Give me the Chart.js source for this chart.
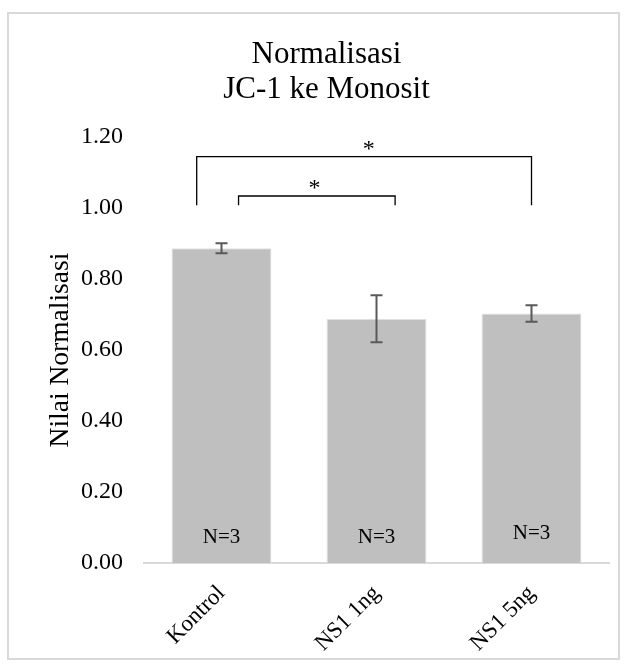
<!DOCTYPE html>
<html>
<head>
<meta charset="utf-8">
<script src="https://cdn.jsdelivr.net/npm/chart.js@4.4.1/dist/chart.umd.min.js"></script>
<style>
  body { margin: 0; background: #fff; }
  #frame { position: absolute; left: 7px; top: 12px; width: 609px; height: 644px; border: 2px solid #d9d9d9; }
  #wrap { position: absolute; left: 0; top: 0; width: 625px; height: 666px; }
</style>
</head>
<body>
<div id="frame"></div>
<div id="wrap"><canvas id="chart_canvas" width="625" height="666"></canvas></div>
<script>
// chart data
var categories = ["Kontrol", "NS1 1ng", "NS1 5ng"];
var means = [0.887, 0.688, 0.703];
var errors = [0.014, 0.066, 0.023];
var nLabels = ["N=3", "N=3", "N=3"];
var yTicks = [0, 0.2, 0.4, 0.6, 0.8, 1.0, 1.2];

// significance brackets, in category index / value units
var sigFrom = [-0.16, 0.11];
var sigTo = [2.0, 1.12];
var sigLine = [1.145, 1.034];
var sigLeg = [1.008, 1.008];
var sigStarX = [0.95, 0.6];
var sigStarY = [1.178, 1.068];

var FONT = "'Liberation Serif', 'Times New Roman', serif";

var errorBarPlugin = {
  id: "errorBars",
  afterDatasetsDraw: function(chart) {
    var ctx = chart.ctx;
    var yScale = chart.scales.y;
    var meta = chart.getDatasetMeta(0);
    ctx.save();
    ctx.strokeStyle = "#595959";
    ctx.lineWidth = 2;
    meta.data.forEach(function(bar, i) {
      var top = yScale.getPixelForValue(means[i] + errors[i]);
      var bottom = yScale.getPixelForValue(means[i] - errors[i]);
      ctx.beginPath();
      ctx.moveTo(bar.x, top); ctx.lineTo(bar.x, bottom);
      ctx.moveTo(bar.x - 6, top); ctx.lineTo(bar.x + 6, top);
      ctx.moveTo(bar.x - 6, bottom); ctx.lineTo(bar.x + 6, bottom);
      ctx.stroke();
    });
    // sample size labels inside the bars
    ctx.fillStyle = "#000";
    ctx.font = "21px " + FONT;
    ctx.textAlign = "center";
    ctx.textBaseline = "middle";
    var base = yScale.getPixelForValue(0);
    meta.data.forEach(function(bar, i) {
      ctx.fillText(nLabels[i], bar.x, base - (i === 2 ? 30 : 26));
    });
    ctx.restore();
  }
};

var bracketPlugin = {
  id: "brackets",
  afterDraw: function(chart) {
    var ctx = chart.ctx;
    var x = chart.scales.x, y = chart.scales.y;
    var step = x.getPixelForValue(1) - x.getPixelForValue(0);
    function px(v) { return x.getPixelForValue(0) + v * step; }
    ctx.save();
    ctx.strokeStyle = "#000";
    ctx.lineWidth = 1.3;
    ctx.fillStyle = "#000";
    ctx.font = "24px " + FONT;
    ctx.textAlign = "center";
    ctx.textBaseline = "middle";
    for (var i = 0; i < sigFrom.length; i++) {
      var x1 = px(sigFrom[i]), x2 = px(sigTo[i]);
      var yl = y.getPixelForValue(sigLine[i]), yb = y.getPixelForValue(sigLeg[i]);
      ctx.beginPath();
      ctx.moveTo(x1, yb); ctx.lineTo(x1, yl); ctx.lineTo(x2, yl); ctx.lineTo(x2, yb);
      ctx.stroke();
      ctx.fillText("*", px(sigStarX[i]), y.getPixelForValue(sigStarY[i]) + 5);
    }
    ctx.restore();
  }
};

var myChart = new Chart(document.getElementById("chart_canvas").getContext("2d"), {
  type: "bar",
  data: {
    labels: categories,
    datasets: [{
      data: means,
      backgroundColor: "#bfbfbf",
      borderColor: "#e3e3e3",
      borderWidth: { left: 1, right: 1, top: 1, bottom: 0 },
      categoryPercentage: 1.0,
      barPercentage: 0.645
    }]
  },
  options: {
    responsive: false,
    animation: false,
    layout: { padding: { left: 44, right: 16, top: 0, bottom: 0 } },
    plugins: {
      legend: { display: false },
      tooltip: { enabled: false },
      title: {
        display: true,
        text: ["Normalisasi", "JC-1 ke Monosit"],
        color: "#000",
        font: { family: FONT, size: 31, weight: "normal", lineHeight: 1.13 },
        padding: { top: 37, bottom: 30 }
      }
    },
    scales: {
      x: {
        grid: { display: false, drawTicks: false },
        border: { display: true, color: "#d9d9d9", width: 2 },
        ticks: {
          color: "#000",
          font: { family: FONT, size: 23 },
          minRotation: 45,
          maxRotation: 45,
          padding: 17
        },
        afterFit: function(scale) { scale.height = 103; }
      },
      y: {
        min: 0,
        max: 1.2,
        afterBuildTicks: function(scale) {
          scale.ticks = yTicks.map(function(v) { return { value: v }; });
        },
        grid: { display: false, drawTicks: false },
        border: { display: false },
        ticks: {
          color: "#000",
          font: { family: FONT, size: 24 },
          padding: 21,
          callback: function(v) { return Number(v).toFixed(2); }
        },
        title: {
          display: true,
          text: "Nilai Normalisasi",
          color: "#000",
          font: { family: FONT, size: 27.5 },
          padding: 0
        },
        afterFit: function(scale) { scale.width = 100; }
      }
    }
  },
  plugins: [errorBarPlugin, bracketPlugin]
});
</script>
</body>
</html>
